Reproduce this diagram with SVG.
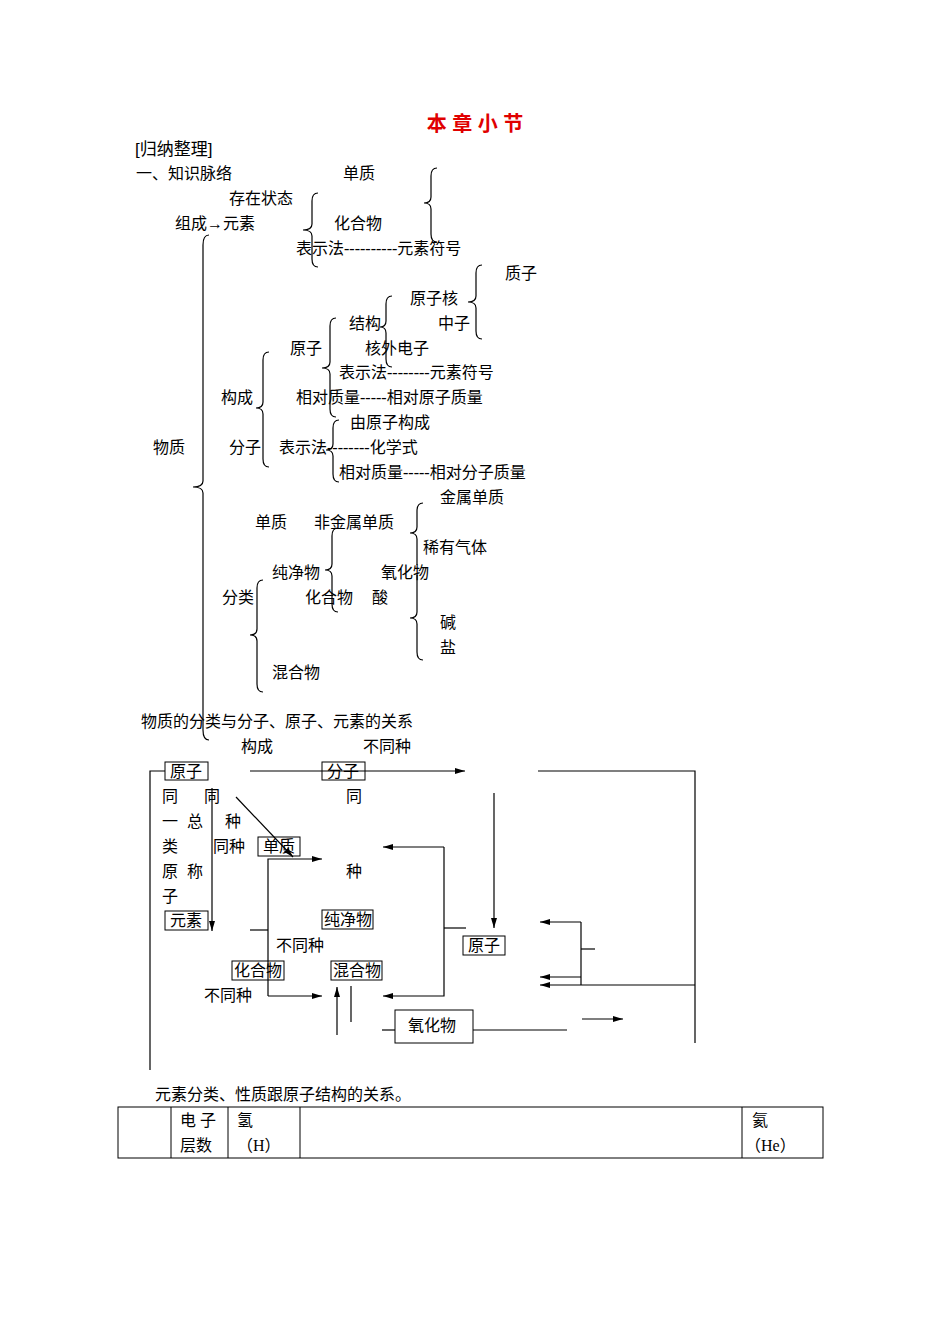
<svg xmlns="http://www.w3.org/2000/svg" width="950" height="1344" viewBox="0 0 950 1344">
<defs>
<marker id="ah" viewBox="0 0 10 6" refX="10" refY="3" markerWidth="10" markerHeight="6" orient="auto" markerUnits="userSpaceOnUse"><path d="M0,0 L10,3 L0,6 Z" fill="#000"/></marker>
</defs>
<style>
text{font-family:"Liberation Serif","Noto Sans CJK SC",serif;font-size:16px;fill:#000}
.t{font-family:"Liberation Sans","Noto Sans CJK SC",sans-serif;font-size:20px;font-weight:bold;fill:#e00000}
.h{font-family:"Liberation Sans","Noto Sans CJK SC",sans-serif;font-size:17px}
.b{fill:none;stroke:#000;stroke-width:1.2}
.l{fill:none;stroke:#000;stroke-width:1.2}
.a{fill:none;stroke:#000;stroke-width:1.2;marker-end:url(#ah)}
.bx{fill:none;stroke:#000;stroke-width:1}
</style>
<rect width="950" height="1344" fill="#fff"/>
<text class="t" x="475" y="131" text-anchor="middle">本 章 小 节</text>
<text class="h" x="135" y="155">[归纳整理]</text>
<g id="tree">
<text x="136" y="179">一、知识脉络</text>
<text x="343" y="179">单质</text>
<text x="229" y="204">存在状态</text>
<text x="175" y="229">组成→元素</text>
<text x="334" y="229">化合物</text>
<text x="296" y="254">表示法----------元素符号</text>
<text x="505" y="279">质子</text>
<text x="410" y="304">原子核</text>
<text x="349" y="329">结构</text>
<text x="438" y="329">中子</text>
<text x="290" y="354">原子</text>
<text x="365" y="354">核外电子</text>
<text x="339" y="378">表示法--------元素符号</text>
<text x="221" y="403">构成</text>
<text x="296" y="403">相对质量-----相对原子质量</text>
<text x="350" y="428">由原子构成</text>
<text x="153" y="453">物质</text>
<text x="229" y="453">分子</text>
<text x="279" y="453">表示法--------化学式</text>
<text x="339" y="478">相对质量-----相对分子质量</text>
<text x="440" y="503">金属单质</text>
<text x="255" y="528">单质</text>
<text x="314" y="528">非金属单质</text>
<text x="423" y="553">稀有气体</text>
<text x="272" y="578">纯净物</text>
<text x="381" y="578">氧化物</text>
<text x="222" y="603">分类</text>
<text x="305" y="603">化合物</text>
<text x="372" y="603">酸</text>
<text x="440" y="628">碱</text>
<text x="440" y="653">盐</text>
<text x="272" y="678">混合物</text>
<text x="141" y="727">物质的分类与分子、原子、元素的关系</text>
</g>
<g id="braces">
<path class="b" d="M437,168 Q431,168 431,176 L431,197 Q431,203 424,203 Q431,203 431,209 L431,234 Q431,242 437,242"/>
<path class="b" d="M318,193 Q312,193 312,201 L312,224 Q312,230 303,230 Q312,230 312,236 L312,259 Q312,267 318,267"/>
<path class="b" d="M209,235 Q203,235 203,245 L203,481 Q203,487 193,487 Q203,487 203,493 L203,730 Q203,740 209,740"/>
<path class="b" d="M482,265 Q476,265 476,273 L476,296 Q476,302 468,302 Q476,302 476,308 L476,331 Q476,339 482,339"/>
<path class="b" d="M392,296 Q386,296 386,304 L386,321 Q386,327 380,327 Q386,327 386,333 L386,359 Q386,367 392,367"/>
<path class="b" d="M336,318 Q330,318 330,326 L330,362 Q330,368 322,368 Q330,368 330,374 L330,409 Q330,417 336,417"/>
<path class="b" d="M269,352 Q263,352 263,360 L263,402 Q263,408 256,408 Q263,408 263,414 L263,459 Q263,467 269,467"/>
<path class="b" d="M339,420 Q333,420 333,428 L333,444 Q333,450 326,450 Q333,450 333,456 L333,474 Q333,482 339,482"/>
<path class="b" d="M338,528 Q332,528 332,536 L332,564 Q332,570 325,570 Q332,570 332,576 L332,604 Q332,612 338,612"/>
<path class="b" d="M423,503 Q417,503 417,511 L417,527 Q417,533 410,533 Q417,533 417,539 L417,565"/>
<path class="b" d="M417,575 L417,612 Q417,618 410,618 Q417,618 417,624 L417,652 Q417,660 423,660"/>
<path class="b" d="M263,580 Q257,580 257,588 L257,629 Q257,635 250,635 Q257,635 257,641 L257,684 Q257,692 263,692"/>
</g>
<g id="flow-texts">
<text x="241" y="752">构成</text>
<text x="363" y="752">不同种</text>
<text x="162" y="802">同</text>
<text x="204" y="802">同</text>
<text x="346" y="802">同</text>
<text x="162" y="827">一</text>
<text x="187" y="827">总</text>
<text x="225" y="827">种</text>
<text x="162" y="852">类</text>
<text x="213" y="852">同种</text>
<text x="162" y="877">原</text>
<text x="187" y="877">称</text>
<text x="346" y="877">种</text>
<text x="162" y="902">子</text>
<text x="276" y="951">不同种</text>
<text x="204" y="1001">不同种</text>
</g>
<g id="n-yuanzi1"><rect class="bx" x="165" y="762" width="43" height="18"/><text x="170" y="777">原子</text></g>
<g id="n-fenzi"><rect class="bx" x="322" y="762" width="43" height="18"/><text x="327" y="777">分子</text></g>
<g id="n-danzhi"><rect class="bx" x="258" y="837" width="42" height="19"/><text x="263" y="852">单质</text></g>
<g id="n-yuansu"><rect class="bx" x="165" y="911" width="43" height="19"/><text x="170" y="926">元素</text></g>
<g id="n-chunjingwu"><rect class="bx" x="322" y="910" width="51" height="19"/><text x="324" y="925">纯净物</text></g>
<g id="n-yuanzi2"><rect class="bx" x="463" y="936" width="42" height="19"/><text x="468" y="951">原子</text></g>
<g id="n-huahewu"><rect class="bx" x="232" y="961" width="52" height="19"/><text x="234" y="976">化合物</text></g>
<g id="n-hunhewu"><rect class="bx" x="331" y="961" width="51" height="19"/><text x="333" y="976">混合物</text></g>
<g id="n-yanghuawu"><rect class="bx" x="395" y="1010" width="78" height="33"/><text x="408" y="1031">氧化物</text></g>
<g id="connectors">
<path class="l" d="M165,771 L150,771 L150,1070"/>
<path class="a" d="M250,771 L465,771"/>
<path class="l" d="M538,771 L695,771 L695,1043"/>
<path class="a" d="M212,788 L212,931"/>
<path class="a" d="M236,797 L293,857"/>
<path class="l" d="M250,930 L268,930"/>
<path class="a" d="M268,996 L268,859 L322,859"/>
<path class="a" d="M268,996 L322,996"/>
<path class="a" d="M444,847 L383,847"/>
<path class="a" d="M444,847 L444,996 L383,996"/>
<path class="l" d="M444,928 L466,928"/>
<path class="a" d="M337,1035 L337,987"/>
<path class="l" d="M351,986 L351,1022"/>
<path class="l" d="M382,1030 L395,1030"/>
<path class="l" d="M473,1030 L567,1030"/>
<path class="a" d="M582,1019 L623,1019"/>
<path class="a" d="M494,793 L494,928"/>
<path class="a" d="M581,922 L540,922"/>
<path class="l" d="M581,922 L581,985"/>
<path class="a" d="M581,977 L540,977"/>
<path class="l" d="M581,949 L595,949"/>
<path class="a" d="M695,985 L540,985"/>
</g>
<text x="155" y="1100">元素分类、性质跟原子结构的关系。</text>
<g id="table">
<rect class="bx" x="118" y="1107" width="705" height="51"/>
<path class="bx" d="M171,1107 V1158 M228,1107 V1158 M300,1107 V1158 M742,1107 V1158"/>
<text x="180" y="1126">电 子</text>
<text x="180" y="1151">层数</text>
<text x="237" y="1126">氢</text>
<text x="237" y="1151">（H）</text>
<text x="752" y="1126">氦</text>
<text x="745" y="1151">（He）</text>
</g>
</svg>
